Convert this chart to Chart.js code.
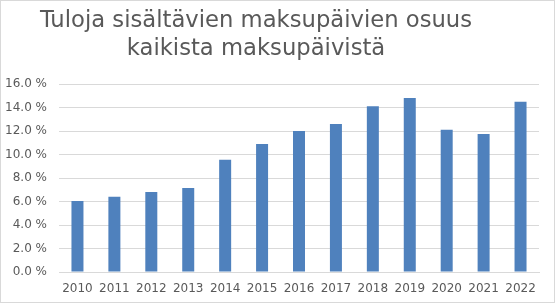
<!DOCTYPE html>
<html><head><meta charset="utf-8">
<script src="https://cdn.jsdelivr.net/npm/chart.js@4"></script>
<style>
html,body{margin:0;padding:0;background:#fff;}
#wrap{position:relative;width:555px;height:303px;}
#frame{position:absolute;left:0;top:0;width:553px;height:301px;border:1px solid #d9d9d9;pointer-events:none;}
canvas{display:block;}
</style></head>
<body>
<div id="wrap"><canvas id="c" width="555" height="303"></canvas><div id="frame"></div></div>
<script>
const categories = ["2010","2011","2012","2013","2014","2015","2016","2017","2018","2019","2020","2021","2022"];
const shareValues = [6.05, 6.4, 6.8, 7.15, 9.55, 10.9, 12.0, 12.6, 14.1, 14.8, 12.1, 11.75, 14.5];
const titleLines = ["Tuloja sisältävien maksupäivien osuus", "kaikista maksupäivistä"];
const yMax = 16, yStep = 2;

Chart.defaults.font.family = "'DejaVu Sans', sans-serif";

const shiftTitle = {
  id: 'shiftTitle',
  afterLayout(chart) {
    const t = chart.titleBlock;
    if (t) { t.left -= 13.5; t.right -= 13.5; }
  }
};

new Chart(document.getElementById('c'), {
  type: 'bar',
  data: {
    labels: categories,
    datasets: [{
      data: shareValues,
      backgroundColor: '#4f81bd',
      borderWidth: 0,
      barPercentage: 0.325,
      categoryPercentage: 1.0
    }]
  },
  plugins: [shiftTitle],
  options: {
    responsive: false,
    animation: false,
    layout: { padding: { left: 0, right: 16, top: 0, bottom: 0 } },
    plugins: {
      legend: { display: false },
      tooltip: { enabled: false },
      title: {
        display: true,
        text: titleLines,
        color: '#595959',
        font: { size: 22.7, weight: 'normal', lineHeight: 28/22.7 },
        padding: { top: 7, bottom: 21 }
      }
    },
    scales: {
      x: {
        grid: { display: false, drawTicks: false },
        border: { display: true, color: '#d9d9d9', width: 1 },
        ticks: { color: '#595959', font: { size: 12 }, padding: 10, maxRotation: 0, autoSkip: false },
        afterFit(s) { s.height = 31; }
      },
      y: {
        min: 0, max: yMax,
        grid: { color: '#d9d9d9', lineWidth: 1, drawTicks: false },
        border: { display: false },
        ticks: {
          stepSize: yStep, color: '#595959', padding: 12,
          font: { size: 12 },
          callback: v => v.toFixed(1) + ' %'
        },
        afterFit(s) { s.width = 59; }
      }
    }
  }
});
</script>
</body></html>
